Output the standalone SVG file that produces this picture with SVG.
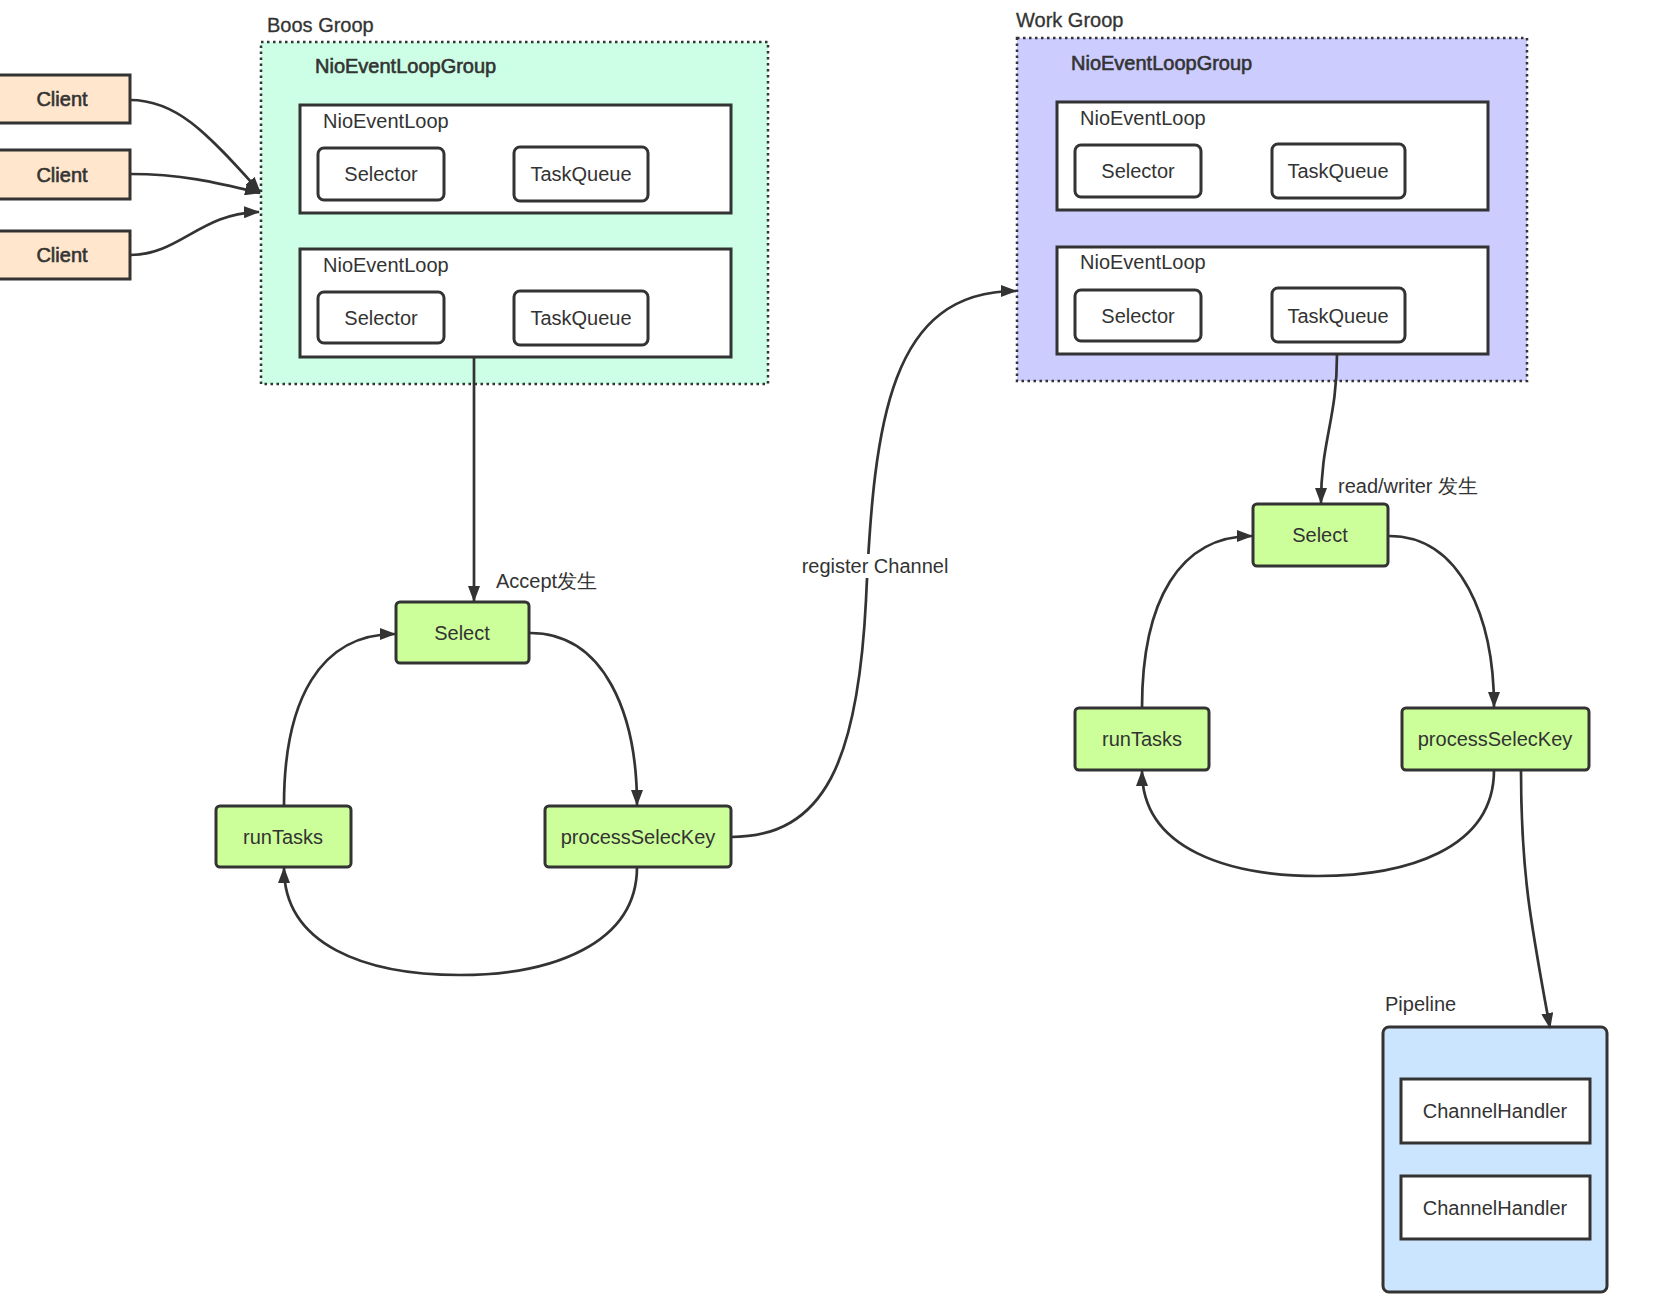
<svg xmlns="http://www.w3.org/2000/svg" width="1664" height="1316" viewBox="0 0 1664 1316">
<style>
text{font-family:"Liberation Sans",Arial,sans-serif;fill:#333;font-size:20px}
.c{text-anchor:middle;dominant-baseline:central}
.m{stroke:#333;stroke-width:0.6px}
.client{fill:#ffe6cc;stroke:#333;stroke-width:3}
.grp{stroke:#333;stroke-width:2.5;stroke-dasharray:2.5 3.5}
.loop{fill:#fff;stroke:#333;stroke-width:3}
.inner{fill:#fff;stroke:#333;stroke-width:3}
.green{fill:#ccff99;stroke:#333;stroke-width:3}
.edge{fill:none;stroke:#333;stroke-width:2.7;marker-end:url(#ah)}
</style>
<defs>
<marker id="ah" viewBox="0 0 16 12" refX="15" refY="6" markerWidth="16" markerHeight="12" markerUnits="userSpaceOnUse" orient="auto">
<path d="M0,0 L16,6 L0,12 Z" fill="#333"/>
</marker>
</defs>
<rect width="1664" height="1316" fill="#fff"/>

<g id="client1"><rect class="client" x="-3" y="75" width="133" height="48"/><text class="c m" x="62" y="99">Client</text></g>
<g id="client2"><rect class="client" x="-3" y="150" width="133" height="49"/><text class="c m" x="62" y="175">Client</text></g>
<g id="client3"><rect class="client" x="-3" y="231" width="133" height="48"/><text class="c m" x="62" y="255">Client</text></g>

<g id="boss-group">
<text class="m" x="267" y="32" font-size="19" style="stroke-width:0.3px">Boos Groop</text>
<rect class="grp" x="261" y="42" width="507" height="342" fill="#ccffe6"/>
<text class="m" x="315" y="73" font-size="19">NioEventLoopGroup</text>
<g id="boss-loop1">
<rect class="loop" x="300" y="105" width="431" height="108"/>
<text x="323" y="128" font-size="19">NioEventLoop</text>
<rect class="inner" x="318" y="148" width="126" height="52" rx="6"/><text class="c" x="381" y="174">Selector</text>
<rect class="inner" x="514" y="147" width="134" height="54" rx="6"/><text class="c" x="581" y="174">TaskQueue</text>
</g>
<g id="boss-loop2">
<rect class="loop" x="300" y="249" width="431" height="108"/>
<text x="323" y="272" font-size="19">NioEventLoop</text>
<rect class="inner" x="318" y="292" width="126" height="51" rx="6"/><text class="c" x="381" y="318">Selector</text>
<rect class="inner" x="514" y="291" width="134" height="54" rx="6"/><text class="c" x="581" y="318">TaskQueue</text>
</g>
</g>

<g id="work-group">
<text class="m" x="1016" y="27" font-size="19" style="stroke-width:0.3px">Work Groop</text>
<rect class="grp" x="1017" y="38" width="510" height="343" fill="#ccccff"/>
<text class="m" x="1071" y="70" font-size="19">NioEventLoopGroup</text>
<g id="work-loop1">
<rect class="loop" x="1057" y="102" width="431" height="108"/>
<text x="1080" y="125" font-size="19">NioEventLoop</text>
<rect class="inner" x="1075" y="145" width="126" height="52" rx="6"/><text class="c" x="1138" y="171">Selector</text>
<rect class="inner" x="1272" y="144" width="133" height="54" rx="6"/><text class="c" x="1338" y="171">TaskQueue</text>
</g>
<g id="work-loop2">
<rect class="loop" x="1057" y="247" width="431" height="107"/>
<text x="1080" y="269" font-size="19">NioEventLoop</text>
<rect class="inner" x="1075" y="290" width="126" height="51" rx="6"/><text class="c" x="1138" y="316">Selector</text>
<rect class="inner" x="1272" y="288" width="133" height="54" rx="6"/><text class="c" x="1338" y="316">TaskQueue</text>
</g>
</g>

<g id="boss-select"><rect class="green" x="396" y="602" width="133" height="61" rx="4"/><text class="c" x="462" y="633">Select</text></g>
<g id="boss-runtasks"><rect class="green" x="216" y="806" width="135" height="61" rx="4"/><text class="c" x="283" y="837">runTasks</text></g>
<g id="boss-process"><rect class="green" x="545" y="806" width="186" height="61" rx="4"/><text class="c" x="638" y="837">processSelecKey</text></g>

<g id="work-select"><rect class="green" x="1253" y="504" width="135" height="62" rx="4"/><text class="c" x="1320" y="535">Select</text></g>
<g id="work-runtasks"><rect class="green" x="1075" y="708" width="134" height="62" rx="4"/><text class="c" x="1142" y="739">runTasks</text></g>
<g id="work-process"><rect class="green" x="1402" y="708" width="187" height="62" rx="4"/><text class="c" x="1495" y="739">processSelecKey</text></g>

<g id="pipeline">
<text x="1385" y="1011" font-size="19">Pipeline</text>
<rect x="1383" y="1027" width="224" height="265" rx="6" fill="#cce5ff" stroke="#333" stroke-width="3"/>
<rect class="inner" x="1401" y="1079" width="189" height="64"/><text class="c" x="1495" y="1111">ChannelHandler</text>
<rect class="inner" x="1401" y="1176" width="189" height="63"/><text class="c" x="1495" y="1208">ChannelHandler</text>
</g>

<g id="connectors">
<path class="edge" d="M130,100 C175,100 205,130 260,192"/>
<path class="edge" d="M130,174 C180,174 215,182 260,193"/>
<path class="edge" d="M130,255 C180,255 200,213 259,212"/>
<path class="edge" d="M474,357 L474,601"/>
<text x="496" y="588" font-size="19">Accept发生</text>
<path class="edge" d="M530,633 C605,633 637,715 637,805"/>
<path class="edge" d="M637,867 C637,945 550,975 460,975 C365,975 284,945 284,868"/>
<path class="edge" d="M284,805 C284,700 320,634 395,634"/>
<path class="edge" d="M731,837 C825,837 858,760 866,600 C874,420 890,291 1016,291"/>
<rect x="800" y="554" width="150" height="24" fill="#fff"/>
<text class="c" x="875" y="566" font-size="19">register Channel</text>
<path class="edge" d="M1337,354 C1337,420 1321,440 1321,503"/>
<text x="1338" y="493" font-size="19">read/writer 发生</text>
<path class="edge" d="M1389,536 C1462,536 1494,620 1494,707"/>
<path class="edge" d="M1494,770 C1494,850 1405,876 1318,876 C1230,876 1142,850 1142,771"/>
<path class="edge" d="M1142,708 C1142,600 1180,536 1252,536"/>
<path class="edge" d="M1521,770 C1521,870 1530,920 1550,1028"/>
</g>
</svg>
